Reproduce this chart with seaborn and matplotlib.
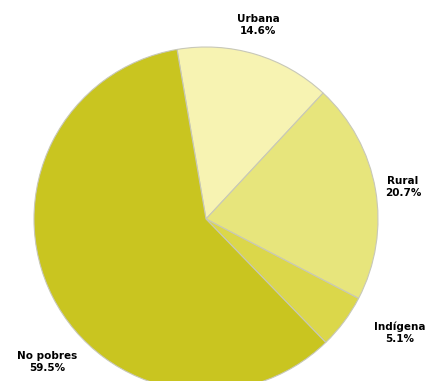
import matplotlib
matplotlib.use("Agg")
import matplotlib.pyplot as plt
import seaborn as sns

# Share of population by poverty group
categories = ["Urbana", "Rural", "Indígena", "No pobres"]
shares = [14.6, 20.7, 5.1, 59.5]
pct_labels = ["14.6%", "20.7%", "5.1%", "59.5%"]

sns.set_theme(style="white")
plt.rcParams["font.family"] = ["DejaVu Sans"]

colors = ["#f7f3b2", "#e7e57c", "#dbd74a", "#c9c520"]

W, H = 426, 381
fig = plt.figure(figsize=(W / 100, H / 100), dpi=100)
ax = fig.add_axes([0, 0, 1, 1])

cx, cy, r = 206, H - 219, 172
ax.pie(shares, colors=colors, startangle=99.7, counterclock=False,
       center=(cx, cy), radius=r, frame=True,
       wedgeprops=dict(edgecolor="#c8c8b8", linewidth=0.8))
ax.set_xlim(0, W)
ax.set_ylim(0, H)
ax.set_aspect("equal")
ax.axis("off")

label_pos = [(258, 25), (403, 187), (400, 333), (47, 362)]
for name, pct, (x, y) in zip(categories, pct_labels, label_pos):
    ax.text(x, H - y, f"{name}\n{pct}", ha="center", va="center",
            fontsize=7.5, fontweight="bold", color="black",
            linespacing=1.2)

fig.savefig("out.png", dpi=100)
